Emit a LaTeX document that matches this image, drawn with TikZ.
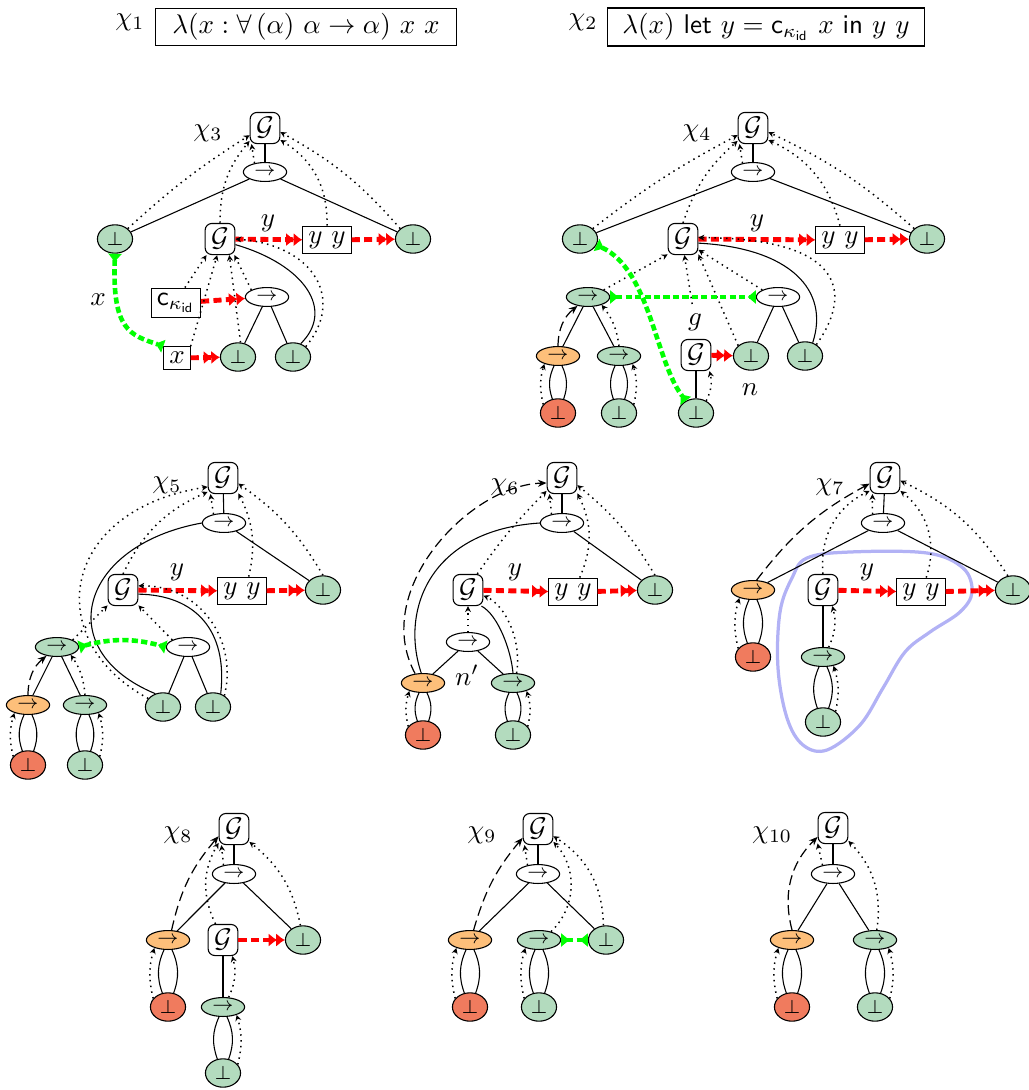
\documentclass[tikz,border=0pt]{standalone}
\usepackage{amsmath,amssymb}
\usepackage{tikz}
\usetikzlibrary{arrows.meta,positioning,shapes.geometric}
\usepackage{xcolor}
\definecolor{vgreen}{RGB}{179,219,190}
\definecolor{vorange}{RGB}{253,191,122}
\definecolor{vred}{RGB}{240,123,94}
\definecolor{vblob}{RGB}{178,178,245}
\tikzset{
  gvtx/.style  ={draw, rounded corners=2.5pt, minimum width=11pt,
                 minimum height=11.5pt, inner sep=0pt, fill=white},
  avtx/.style  ={draw, ellipse, minimum width=16pt, minimum height=7pt,
                 inner sep=0pt, fill=white, font=\scriptsize},
  avtxG/.style ={avtx, fill=vgreen},
  avtxO/.style ={avtx, fill=vorange},
  bvtx/.style  ={draw, ellipse, minimum width=13pt, minimum height=10.5pt,
                 inner sep=0pt, fill=vgreen, font=\scriptsize},
  bvtxR/.style ={bvtx, fill=vred},
  tbox/.style  ={draw, inner sep=2pt},
  hbox/.style  ={draw, minimum height=14pt, inner sep=2pt},
  bnd/.style   ={-{Stealth[length=2.2pt,width=2.2pt]}, line width=0.55pt,
                 dash pattern=on 0.55pt off 1.6pt},
  bndD/.style  ={-{Stealth[length=3.2pt,width=2.6pt]}, line width=0.45pt,
                 dash pattern=on 3.7pt off 1.9pt},
  flowtip/.tip ={Latex[length=3.2pt,width=5pt]},
  flow/.style  ={-{flowtip[sep=-0.4pt]flowtip}, line width=1.8pt, red,
                 dash pattern=on 3pt off 1.6pt},
  unitip/.tip  ={Triangle[reversed,length=3pt,width=4.8pt]},
  uni/.style   ={unitip-unitip, line width=1.7pt, green,
                 dash pattern=on 2.3pt off 1.2pt},
  blob/.style  ={line width=1.2pt, vblob},
}
\begin{document}
\begin{tikzpicture}[x=0.37pt, y=-0.37pt]
  \useasboundingbox (0,0) rectangle (1029,1090);

  \node (c1) at (130,22) {$\chi_1$};
  \node[hbox, minimum width=111.7pt] (t1) at (306,27)
    {$\lambda(x : \forall\,(\alpha)\ \alpha \to \alpha)\ x\ x$};
  \node (c2) at (583,22) {$\chi_2$};
  \node[hbox, minimum width=117pt] (t2) at (766,27)
    {$\lambda(x)$ \textsf{let} $y = \mathsf{c}_{\kappa_{\mathsf{id}}}\ x$ \textsf{in} $y\ y$};

  \node (l3) at (208,133) {$\chi_3$};
  \node[gvtx] (gt3) at (265,128) {$\mathcal{G}$};
  \node[avtx] (at3) at (265,172) {$\to$};
  \node[bvtx] (ul3) at (115,239) {$\bot$};
  \node[gvtx] (gm3) at (220,239) {$\mathcal{G}$};
  \node[tbox] (yy3) at (327,240) {$y\ y$};
  \node[bvtx] (ur3) at (413,239) {$\bot$};
  \node[tbox] (ck3) at (176,303) {$\mathsf{c}_{\kappa_{\mathsf{id}}}$};
  \node[avtx] (am3) at (267,297) {$\to$};
  \node[tbox] (xb3) at (177,358) {$x$};
  \node[bvtx] (ua3) at (238,357) {$\bot$};
  \node[bvtx] (ub3) at (293,357) {$\bot$};
  \node (y3) at (268,223) {$y$};
  \node (x3) at (98,300) {$x$};
  \draw (gt3) -- (at3);
  \draw (at3) -- (ul3);
  \draw (at3) -- (ur3);
  \draw (am3) -- (ua3);
  \draw (am3) -- (ub3);
  \draw (gm3.-20) .. controls (305,265) and (335,310) .. (ub3.60);
  \draw[bnd] (ul3.north east) to[bend left=5] (gt3.-155);
  \draw[bnd] (gm3.north) to[bend left=20] (gt3.-140);
  \draw[bnd] (at3.140) -- (gt3.-130);
  \draw[bnd] (yy3.north) to[bend right=30] (gt3.-38);
  \draw[bnd] (ur3.north west) to[bend right=10] (gt3.-15);
  \draw[flow] (gm3) -- (yy3);
  \draw[flow] (yy3) -- (ur3);
  \draw[flow] (ck3) -- (am3);
  \draw[flow] (xb3) -- (ua3);
  \draw[bnd] (ck3.60) -- (gm3.-130);
  \draw[bnd] (xb3.north east) -- (gm3.-100);
  \draw[bnd] (ua3.80) -- (gm3.-60);
  \draw[bnd] (am3.north west) -- (gm3.-48);
  \draw[bnd] (ub3.north east) .. controls (345,300) and (315,245) .. (gm3.east);
  \draw[uni] (ul3.south) .. controls (112,330) and (130,335) .. (xb3.north west);

  \node (l4) at (697,133) {$\chi_4$};
  \node[gvtx] (gt4) at (753,128) {$\mathcal{G}$};
  \node[avtx] (at4) at (753,172) {$\to$};
  \node[bvtx] (ul4) at (580,239) {$\bot$};
  \node[gvtx] (gm4) at (683,239) {$\mathcal{G}$};
  \node[tbox] (yy4) at (840,240) {$y\ y$};
  \node[bvtx] (ur4) at (927,239) {$\bot$};
  \node[avtxG] (al4) at (588,297) {$\to$};
  \node[avtx] (aw4) at (778,297) {$\to$};
  \node[avtxO] (ao4) at (558,356) {$\to$};
  \node[avtxG] (ag4) at (619,356) {$\to$};
  \node[bvtxR] (ud4) at (558,413) {$\bot$};
  \node[bvtx] (ue4) at (619,413) {$\bot$};
  \node[gvtx] (gs4) at (696,355) {$\mathcal{G}$};
  \node[bvtx] (us4) at (696,413) {$\bot$};
  \node[bvtx] (ua4) at (751,356) {$\bot$};
  \node[bvtx] (ub4) at (805,356) {$\bot$};
  \node (y4) at (757,223) {$y$};
  \node (g4) at (695,322) {$g$};
  \node (n4) at (750,390) {$n$};
  \draw (gt4) -- (at4);
  \draw (at4) -- (ul4);
  \draw (at4) -- (ur4);
  \draw (al4) -- (ao4);
  \draw (al4) -- (ag4);
  \draw (aw4) -- (ua4);
  \draw (aw4) -- (ub4);
  \draw (gs4) -- (us4);
  \draw (ao4) to[bend left=22] (ud4);
  \draw (ao4) to[bend right=22] (ud4);
  \draw (ag4) to[bend left=22] (ue4);
  \draw (ag4) to[bend right=22] (ue4);
  \draw (gm4.-15) .. controls (790,248) and (830,290) .. (ub4.60);
  \draw[bnd] (ul4.north east) to[bend left=5] (gt4.-155);
  \draw[bnd] (gm4.north) to[bend left=15] (gt4.-140);
  \draw[bnd] (at4.140) -- (gt4.-130);
  \draw[bnd] (yy4.north) to[bend right=25] (gt4.-38);
  \draw[bnd] (ur4.north west) to[bend right=8] (gt4.-15);
  \draw[flow] (gm4) -- (yy4);
  \draw[flow] (yy4) -- (ur4);
  \draw[flow] (gs4) -- (ua4);
  \draw[bnd] (al4.north east) -- (gm4.-135);
  \draw[bnd] (g4) -- (gm4.-85);
  \draw[bnd] (ua4.north west) -- (gm4.-45);
  \draw[bnd] (aw4.north west) -- (gm4.-35);
  \draw[bnd] (ub4.45) .. controls (855,290) and (840,238) .. (gm4.5);
  \draw[bndD] (ao4.north) to[bend left=25] (al4.-140);
  \draw[bnd] (ag4.north) to[bend right=15] (al4.-30);
  \draw[bnd] (ud4.150) to[bend left=15] (ao4.-150);
  \draw[bnd] (ue4.30) to[bend right=15] (ag4.-30);
  \draw[bnd] (us4.50) to[bend right=20] (gs4.-50);
  \draw[uni] (al4.east) -- (aw4.west);
  \draw[uni] (ul4.-20) .. controls (650,270) and (655,360) .. (us4.130);

  \node (l5) at (167,485) {$\chi_5$};
  \node[gvtx] (gt5) at (223,478) {$\mathcal{G}$};
  \node[avtx] (at5) at (224,523) {$\to$};
  \node[gvtx] (gm5) at (123,590) {$\mathcal{G}$};
  \node[tbox] (yy5) at (242,591) {$y\ y$};
  \node[bvtx] (ur5) at (323,590) {$\bot$};
  \node[avtxG] (al5) at (57,647) {$\to$};
  \node[avtx] (aw5) at (188,647) {$\to$};
  \node[avtxO] (ao5) at (28,705) {$\to$};
  \node[avtxG] (ag5) at (85,705) {$\to$};
  \node[bvtxR] (ud5) at (28,765) {$\bot$};
  \node[bvtx] (ue5) at (85,765) {$\bot$};
  \node[bvtx] (ua5) at (163,707) {$\bot$};
  \node[bvtx] (ub5) at (213,707) {$\bot$};
  \node (y5) at (177,572) {$y$};
  \draw (gt5) -- (at5);
  \draw (at5) -- (ur5);
  \draw (at5.west) .. controls (80,545) and (50,650) .. (ua5.120);
  \draw (aw5) -- (ua5);
  \draw (aw5) -- (ub5);
  \draw (al5) -- (ao5);
  \draw (al5) -- (ag5);
  \draw (gm5.-15) .. controls (195,595) and (228,630) .. (ub5.60);
  \draw (ao5) to[bend left=22] (ud5);
  \draw (ao5) to[bend right=22] (ud5);
  \draw (ag5) to[bend left=22] (ue5);
  \draw (ag5) to[bend right=22] (ue5);
  \draw[bnd] (ua5.150) .. controls (40,640) and (60,510) .. (gt5.-150);
  \draw[bnd] (gm5.north) to[bend left=20] (gt5.-138);
  \draw[bnd] (at5.140) -- (gt5.-128);
  \draw[bnd] (yy5.65) to[bend right=20] (gt5.-45);
  \draw[bnd] (ur5.north) to[bend right=12] (gt5.-20);
  \draw[flow] (gm5) -- (yy5);
  \draw[flow] (yy5) -- (ur5);
  \draw[bnd] (ub5.45) .. controls (238,640) and (200,585) .. (gm5.15);
  \draw[bnd] (aw5.north west) -- (gm5.-45);
  \draw[bnd] (al5.north east) -- (gm5.-135);
  \draw[uni] (al5.east) to[bend left=15] (aw5.west);
  \draw[bndD] (ao5.north) to[bend left=25] (al5.-140);
  \draw[bnd] (ag5.north) to[bend right=15] (al5.-30);
  \draw[bnd] (ud5.150) to[bend left=15] (ao5.-150);
  \draw[bnd] (ue5.30) to[bend right=15] (ag5.-30);

  \node (l6) at (505,487) {$\chi_6$};
  \node[gvtx] (gt6) at (562,478) {$\mathcal{G}$};
  \node[avtx] (at6) at (562,523) {$\to$};
  \node[gvtx] (gm6) at (468,590) {$\mathcal{G}$};
  \node[tbox] (yy6) at (573,592) {$y\ y$};
  \node[bvtx] (ur6) at (655,590) {$\bot$};
  \node[avtx] (aw6) at (468,642) {$\to$};
  \node[avtxO] (ao6) at (423,683) {$\to$};
  \node[avtxG] (ag6) at (513,683) {$\to$};
  \node[bvtxR] (ud6) at (423,735) {$\bot$};
  \node[bvtx] (ue6) at (513,735) {$\bot$};
  \node (y6) at (515,572) {$y$};
  \node (n6) at (467,675) {$n'$};
  \draw (gt6) -- (at6);
  \draw (at6) -- (ur6);
  \draw (at6.west) .. controls (430,530) and (400,610) .. (ao6.100);
  \draw (aw6) -- (ao6);
  \draw (aw6) -- (ag6);
  \draw (gm6.-50) .. controls (498,615) and (511,650) .. (ag6.north);
  \draw (ao6) to[bend left=22] (ud6);
  \draw (ao6) to[bend right=22] (ud6);
  \draw (ag6) to[bend left=22] (ue6);
  \draw (ag6) to[bend right=22] (ue6);
  \draw[bndD] (ao6.130) .. controls (370,590) and (470,485) .. (gt6.-162);
  \draw[bnd] (gm6.60) to[bend left=5] (gt6.-140);
  \draw[bnd] (at6.140) -- (gt6.-128);
  \draw[bnd] (yy6.65) to[bend right=25] (gt6.-45);
  \draw[bnd] (ur6.north) to[bend right=10] (gt6.-25);
  \draw[flow] (gm6) -- (yy6);
  \draw[flow] (yy6) -- (ur6);
  \draw[bnd] (ag6.70) .. controls (522,640) and (505,605) .. (gm6.-20);
  \draw[bnd] (aw6.north) -- (gm6.south);
  \draw[bnd] (ud6.150) to[bend left=15] (ao6.-150);
  \draw[bnd] (ue6.30) to[bend right=15] (ag6.-30);

  \draw[blob] plot[smooth cycle, tension=0.6] coordinates
    {(807,558) (850,552) (927,553) (963,568) (972,592) (960,612)
     (930,632) (905,652) (883,688) (860,725) (827,750) (803,745)
     (787,718) (778,668) (780,612) (792,578)};
  \node (l7) at (830,487) {$\chi_7$};
  \node[gvtx] (gt7) at (885,478) {$\mathcal{G}$};
  \node[avtx] (at7) at (883,523) {$\to$};
  \node[avtxO] (ao7) at (753,590) {$\to$};
  \node[bvtxR] (ud7) at (753,657) {$\bot$};
  \node[gvtx] (gm7) at (823,590) {$\mathcal{G}$};
  \node[tbox] (yy7) at (921,592) {$y\ y$};
  \node[bvtx] (ur7) at (1013,590) {$\bot$};
  \node[avtxG] (ag7) at (823,657) {$\to$};
  \node[bvtx] (ue7) at (823,722) {$\bot$};
  \node (y7) at (867,572) {$y$};
  \draw (gt7) -- (at7);
  \draw (at7) -- (ao7);
  \draw (at7) -- (ur7);
  \draw (gm7) -- (ag7);
  \draw (ao7) to[bend left=22] (ud7);
  \draw (ao7) to[bend right=22] (ud7);
  \draw (ag7) to[bend left=22] (ue7);
  \draw (ag7) to[bend right=22] (ue7);
  \draw[bndD] (ao7.70) to[bend left=12] (gt7.-160);
  \draw[bnd] (gm7.north) to[bend left=35] (gt7.-140);
  \draw[bnd] (at7.140) -- (gt7.-128);
  \draw[bnd] (yy7.70) to[bend right=35] (gt7.-40);
  \draw[bnd] (ur7.110) to[bend right=16] (gt7.-10);
  \draw[flow] (gm7) -- (yy7);
  \draw[flow] (yy7) -- (ur7);
  \draw[bnd] (ag7.60) to[bend right=20] (gm7.-60);
  \draw[bnd] (ue7.40) to[bend right=15] (ag7.-40);
  \draw[bnd] (ud7.150) to[bend left=15] (ao7.-150);

  \node (l8) at (178,835) {$\chi_8$};
  \node[gvtx] (gt8) at (234,829) {$\mathcal{G}$};
  \node[avtx] (at8) at (234,874) {$\to$};
  \node[avtxO] (ao8) at (168,940) {$\to$};
  \node[bvtxR] (ud8) at (168,1007) {$\bot$};
  \node[gvtx] (gm8) at (223,940) {$\mathcal{G}$};
  \node[bvtx] (ur8) at (303,940) {$\bot$};
  \node[avtxG] (ag8) at (223,1007) {$\to$};
  \node[bvtx] (ue8) at (223,1073) {$\bot$};
  \draw (gt8) -- (at8);
  \draw (at8) -- (ao8);
  \draw (at8) -- (ur8);
  \draw (gm8) -- (ag8);
  \draw (ao8) to[bend left=22] (ud8);
  \draw (ao8) to[bend right=22] (ud8);
  \draw (ag8) to[bend left=22] (ue8);
  \draw (ag8) to[bend right=22] (ue8);
  \draw[bndD] (ao8.70) to[bend left=14] (gt8.-155);
  \draw[bnd] (gm8.115) to[bend left=28] (gt8.-138);
  \draw[bnd] (at8.140) -- (gt8.-128);
  \draw[bnd] (ur8.100) to[bend right=20] (gt8.-40);
  \draw[flow] (gm8) -- (ur8);
  \draw[bnd] (ag8.60) to[bend right=20] (gm8.-60);
  \draw[bnd] (ue8.30) to[bend right=15] (ag8.-30);
  \draw[bnd] (ud8.150) to[bend left=15] (ao8.-150);

  \node (l9) at (482,835) {$\chi_9$};
  \node[gvtx] (gt9) at (538,829) {$\mathcal{G}$};
  \node[avtx] (at9) at (538,874) {$\to$};
  \node[avtxO] (ao9) at (470,940) {$\to$};
  \node[bvtxR] (ud9) at (470,1007) {$\bot$};
  \node[avtxG] (ag9) at (539,940) {$\to$};
  \node[bvtx] (ur9) at (606,940) {$\bot$};
  \node[bvtx] (ue9) at (539,1007) {$\bot$};
  \draw (gt9) -- (at9);
  \draw (at9) -- (ao9);
  \draw (at9) -- (ur9);
  \draw (ao9) to[bend left=22] (ud9);
  \draw (ao9) to[bend right=22] (ud9);
  \draw (ag9) to[bend left=22] (ue9);
  \draw (ag9) to[bend right=22] (ue9);
  \draw[bndD] (ao9.70) to[bend left=12] (gt9.-150);
  \draw[bnd] (at9.140) -- (gt9.-130);
  \draw[bnd] (ag9.35) to[bend right=45] (gt9.-40);
  \draw[bnd] (ur9.100) to[bend right=28] (gt9.-25);
  \draw[uni] (ag9.east) -- (ur9.west);
  \draw[bnd] (ue9.150) to[bend left=15] (ag9.-150);
  \draw[bnd] (ud9.150) to[bend left=15] (ao9.-150);

  \node (l10) at (772,835) {$\chi_{10}$};
  \node[gvtx] (gt10) at (833,828) {$\mathcal{G}$};
  \node[avtx] (at10) at (833,874) {$\to$};
  \node[avtxO] (ao10) at (792,940) {$\to$};
  \node[bvtxR] (ud10) at (792,1007) {$\bot$};
  \node[avtxG] (ag10) at (875,940) {$\to$};
  \node[bvtx] (ue10) at (875,1007) {$\bot$};
  \draw (gt10) -- (at10);
  \draw (at10) -- (ao10);
  \draw (at10) -- (ag10);
  \draw (ao10) to[bend left=22] (ud10);
  \draw (ao10) to[bend right=22] (ud10);
  \draw (ag10) to[bend left=22] (ue10);
  \draw (ag10) to[bend right=22] (ue10);
  \draw[bndD] (ao10.north) to[bend left=30] (gt10.-150);
  \draw[bnd] (at10.140) -- (gt10.-135);
  \draw[bnd] (ag10.80) to[bend right=26] (gt10.-40);
  \draw[bnd] (ud10.150) to[bend left=15] (ao10.-150);
  \draw[bnd] (ue10.30) to[bend right=15] (ag10.-30);
\end{tikzpicture}
\end{document}
